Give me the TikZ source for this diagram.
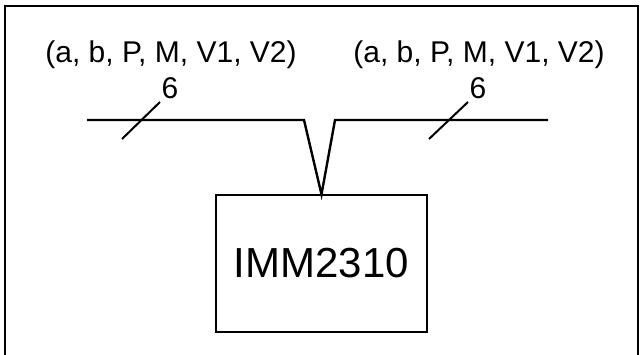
\documentclass[tikz,border=0pt]{standalone}
\usepackage{fontspec}
\setmainfont{Liberation Sans}
\begin{document}
\begin{tikzpicture}[x=1pt,y=-1pt,
  frame/.style={line width=2.4pt},
  bus/.style={line width=2.4pt, line join=miter},
  tick/.style={line width=2pt},
  lbl/.style={inner sep=0pt, font=\fontsize{30}{31}\selectfont},
  module/.style={draw, line width=1.2pt, minimum width=211pt, minimum height=137pt, inner sep=0pt, font=\fontsize{42}{44}\selectfont}]
\useasboundingbox (0,0) rectangle (640,355);
% frame
\draw[frame] (5,357) -- (5,6) -- (638,6) -- (638,357);
% module
\node[module] (box) at (321.5,263.5) {IMM2310};
% bus coordinates
\coordinate (busL) at (87,120);
\coordinate (v1) at (304,120);
\coordinate (v2) at (335,120);
\coordinate (busR) at (548,120);
\draw[bus] (busL) -- (v1) -- (box.north) -- (v2) -- (busR);
% ticks
\coordinate (t1a) at (122,139);
\coordinate (t1b) at (160,102);
\coordinate (t2a) at (429,139);
\coordinate (t2b) at (468,102);
\draw[tick] (t1a) -- (t1b);
\draw[tick] (t2a) -- (t2b);
% labels
\node[lbl] (sigL) at (171,55) {(a, b, P, M, V1, V2)};
\node[lbl] (sigR) at (479,55) {(a, b, P, M, V1, V2)};
\node[lbl] (nL) at (170,88) {6};
\node[lbl] (nR) at (478,88) {6};
\end{tikzpicture}
\end{document}
